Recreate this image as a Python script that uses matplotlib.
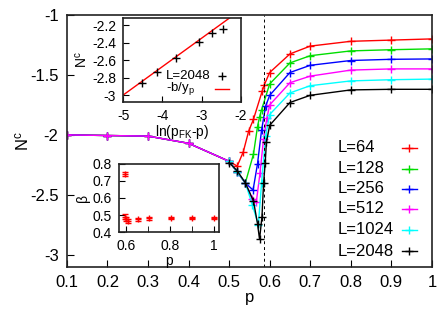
import numpy as np
import matplotlib
matplotlib.use("Agg")
import matplotlib.pyplot as plt

plt.rcParams['font.family'] = ['Liberation Sans', 'DejaVu Sans']
plt.rcParams['mathtext.default'] = 'regular'
plt.rcParams['axes.unicode_minus'] = False

# ---- main panel data: N^c vs p for several L ----
# the smaller sizes were also run at low p, the two largest only from p=0.5
p_low = [0.1, 0.2, 0.3, 0.4]
N_low = [-2.0, -2.005, -2.01, -2.07]

p_64 = [0.5, 0.52, 0.535, 0.548, 0.56, 0.582, 0.587, 0.6, 0.65, 0.7, 0.8, 0.9, 1.0]
N_64 = [-2.22, -2.26, -2.14, -1.97, -1.87, -1.63, -1.58, -1.48, -1.325, -1.26, -1.22, -1.21, -1.20]

p_128 = [0.5, 0.52, 0.54, 0.56, 0.57, 0.575, 0.58, 0.6, 0.65, 0.7, 0.8, 0.9, 1.0]
N_128 = [-2.22, -2.31, -2.40, -2.16, -1.93, -1.85, -1.79, -1.575, -1.40, -1.34, -1.30, -1.29, -1.283]

p_256 = [0.5, 0.52, 0.54, 0.559, 0.57, 0.58, 0.59, 0.6, 0.65, 0.7, 0.8, 0.9, 1.0]
N_256 = [-2.22, -2.31, -2.40, -2.46, -2.24, -1.96, -1.76, -1.67, -1.48, -1.42, -1.38, -1.37, -1.367]

p_512 = [0.5, 0.52, 0.54, 0.556, 0.567, 0.576, 0.585, 0.593, 0.6, 0.65, 0.7, 0.8, 0.9, 1.0]
N_512 = [-2.22, -2.31, -2.40, -2.53, -2.56, -2.32, -2.03, -1.86, -1.75, -1.565, -1.51, -1.46, -1.45, -1.45]

p_1024 = [0.5, 0.52, 0.54, 0.557, 0.572, 0.58, 0.59, 0.6, 0.65, 0.7, 0.8, 0.9, 1.0]
N_1024 = [-2.22, -2.31, -2.40, -2.58, -2.75, -2.40, -2.01, -1.83, -1.65, -1.59, -1.55, -1.54, -1.535]

p_2048 = [0.5, 0.52, 0.54, 0.56, 0.57, 0.575, 0.581, 0.585, 0.589, 0.592, 0.6, 0.65, 0.7, 0.8, 0.9, 1.0]
N_2048 = [-2.23, -2.30, -2.40, -2.55, -2.74, -2.87, -2.68, -2.40, -2.23, -2.06, -1.92, -1.73, -1.67, -1.625, -1.62, -1.62]

labels = ['L=64', 'L=128', 'L=256', 'L=512', 'L=1024', 'L=2048']
colors = ['#ff0000', '#00dd00', '#0000ff', '#ff00ff', '#00ffff', '#000000']
p_sets = [p_low + p_64, p_low + p_128, p_low + p_256, p_low + p_512, p_1024, p_2048]
N_sets = [N_low + N_64, N_low + N_128, N_low + N_256, N_low + N_512, N_1024, N_2048]

p_FK = 0.5858

# ---- inset 1: N^c vs ln(p_FK - p), L=2048 ----
ln_x = [-4.51, -4.14, -3.65, -3.08, -2.75, -2.47]
ln_N = [-2.86, -2.73, -2.57, -2.39, -2.29, -2.24]
fit_x = [-5.0, -2.0]
fit_y = [-3.0, -2.02]

# ---- inset 2: beta vs p ----
beta_p = [0.592, 0.592, 0.6, 0.607, 0.655, 0.705, 0.805, 0.9, 1.0]
beta = [0.74, 0.49, 0.475, 0.465, 0.475, 0.48, 0.483, 0.483, 0.483]
beta_err = [0.01, 0.015, 0.012, 0.012, 0.01, 0.008, 0.007, 0.007, 0.007]

fig = plt.figure(figsize=(4.43, 3.17), dpi=100)
ax = fig.add_axes([0.151, 0.158, 0.824, 0.795])

for p, N, c in zip(p_sets, N_sets, colors):
    ax.plot(p, N, color=c, lw=1.0, marker='+', ms=6, mew=1.0)

ax.axvline(p_FK, color='black', lw=0.7, ls=(0, (3, 3)))

ax.set_xlim(0.1, 1.0)
ax.set_ylim(-3.1, -1.0)
ax.set_xticks(np.arange(0.1, 1.01, 0.1))
ax.set_xticklabels(['0.1', '0.2', '0.3', '0.4', '0.5', '0.6', '0.7', '0.8', '0.9', '1'])
ax.set_yticks([-3, -2.5, -2, -1.5, -1])
ax.set_yticklabels(['-3', '-2.5', '-2', '-1.5', '-1'])
ax.tick_params(direction='in', length=5, labelsize=12, pad=6)
ax.set_xlabel('p', fontsize=12, labelpad=0)
ax.set_ylabel('N$^c$', fontsize=12, labelpad=-1)
for s in ax.spines.values():
    s.set_linewidth(1.2)
    s.set_color('#222222')

# legend drawn by hand so text is left aligned and handles sit on the right
leg_y = [0.472, 0.389, 0.310, 0.230, 0.147, 0.063]
for lab, c, y in zip(labels, colors, leg_y):
    ax.text(0.742, y, lab, transform=ax.transAxes, fontsize=12, va='center', ha='left')
    ax.plot([0.917, 0.958], [y, y], transform=ax.transAxes, color=c, lw=1.0)
    ax.plot([0.9375], [y], transform=ax.transAxes, color=c, marker='+', ms=6, mew=1.0)

# inset 1
ax1 = fig.add_axes([0.278, 0.679, 0.266, 0.263])
ax1.plot(fit_x, fit_y, color='#ff0000', lw=1.0)
ax1.plot(ln_x, ln_N, ls='none', color='black', marker='+', ms=6, mew=1.0)
ax1.set_xlim(-5, -2)
ax1.set_ylim(-3.077, -2.12)
ax1.set_xticks([-5, -4, -3, -2])
ax1.set_yticks([-3, -2.8, -2.6, -2.4, -2.2])
ax1.set_yticklabels(['-3', '-2.8', '-2.6', '-2.4', '-2.2'])
ax1.tick_params(direction='in', length=4, labelsize=10, pad=5)
ax1.set_xlabel('ln(p$_{FK}$-p)', fontsize=10, labelpad=0)
ax1.set_ylabel('N$^c$', fontsize=10, labelpad=2)
for s in ax1.spines.values():
    s.set_linewidth(1.2)
    s.set_color('#222222')
ax1.text(0.36, 0.31, 'L=2048', transform=ax1.transAxes, fontsize=9.5, va='center')
ax1.text(0.36, 0.155, '-b/y$_p$', transform=ax1.transAxes, fontsize=9.5, va='center')
ax1.plot([0.842], [0.31], transform=ax1.transAxes, color='black', marker='+', ms=6, mew=1.0)
ax1.plot([0.78, 0.90], [0.155, 0.155], transform=ax1.transAxes, color='#ff0000', lw=1.0)

# inset 2
ax2 = fig.add_axes([0.269, 0.268, 0.226, 0.215])
ax2.errorbar(beta_p, beta, yerr=beta_err, ls='none', color='#ff0000', marker='+',
             ms=5, mew=1.0, elinewidth=1.0, capsize=2.5)
ax2.set_xlim(0.567, 1.023)
ax2.set_ylim(0.4, 0.8)
ax2.set_xticks([0.6, 0.8, 1.0])
ax2.set_xticklabels(['0.6', '0.8', '1'])
ax2.set_xticks([0.7, 0.9], minor=True)
ax2.set_yticks([0.4, 0.5, 0.6, 0.7, 0.8])
ax2.tick_params(which='both', direction='in', length=4, labelsize=10, pad=5)
ax2.set_xlabel('p', fontsize=10, labelpad=1)
ax2.set_ylabel('β', fontsize=10, labelpad=2)
for s in ax2.spines.values():
    s.set_linewidth(1.2)
    s.set_color('#222222')

fig.savefig('out.png', dpi=100)
